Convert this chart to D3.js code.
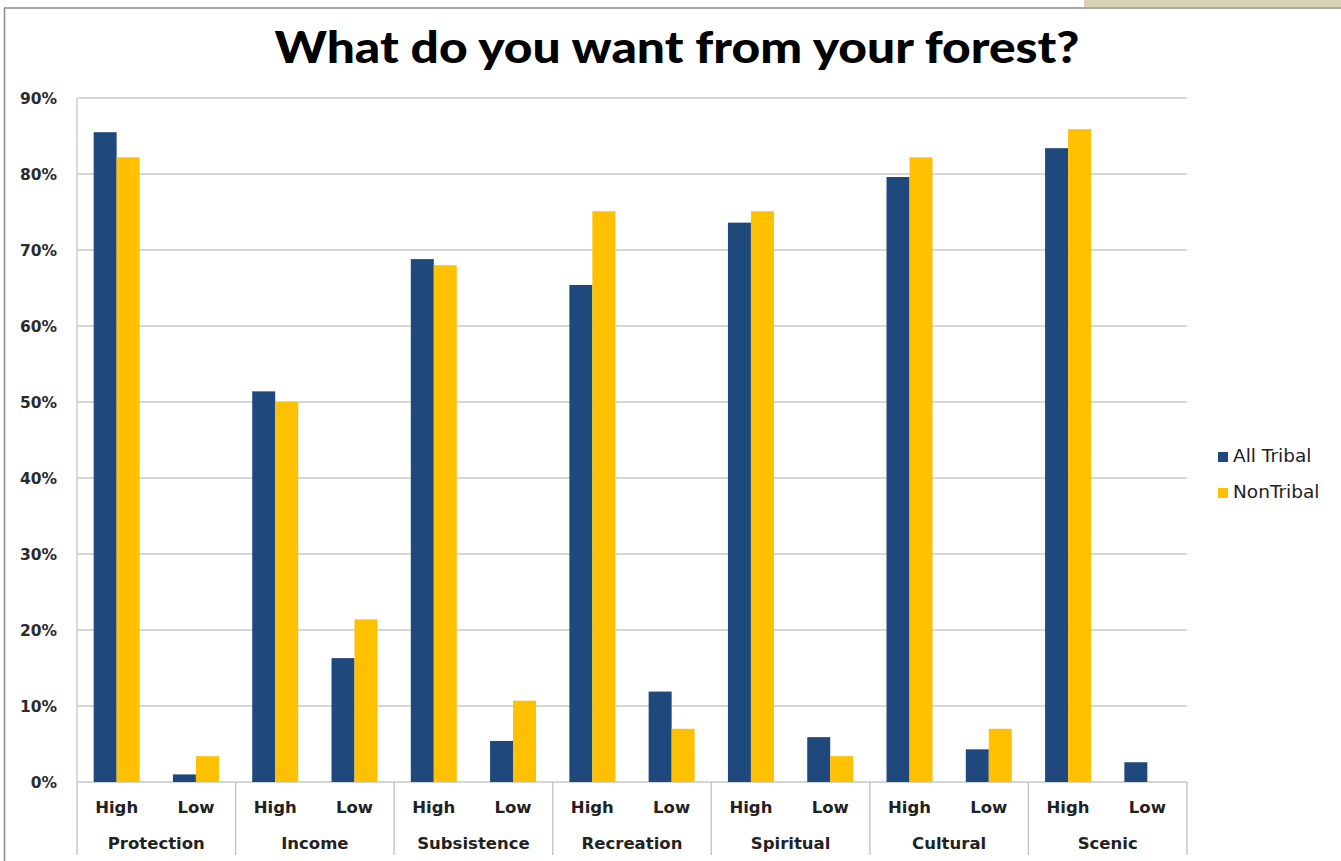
<!DOCTYPE html>
<html><head><meta charset="utf-8">
<script src="https://cdn.jsdelivr.net/npm/d3@7"></script>
<style>html,body{margin:0;padding:0;background:#fff;}svg{display:block;}</style>
</head><body>
<svg id="chart" width="1341" height="861"></svg>
<script>
const groups = ["Protection","Income","Subsistence","Recreation","Spiritual","Cultural","Scenic"];
const levels = ["High","Low"];
const seriesNames = ["All Tribal","NonTribal"];
const allTribal = [85.5,1.0, 51.4,16.3, 68.8,5.4, 65.4,11.9, 73.6,5.9, 79.6,4.3, 83.4,2.6];
const nonTribal = [82.2,3.4, 50.0,21.4, 68.0,10.7, 75.1,7.0, 75.1,3.4, 82.2,7.0, 85.9,0];
const yTicks = [0,10,20,30,40,50,60,70,80,90];
const colors = ["#1F497D","#FFC000"];

const svg = d3.select("#chart");
const font = "Lato, 'Open Sans', sans-serif";
const wide = "'DejaVu Sans', sans-serif";
const L = 77, R = 1187, T = 98, B = 782;

// frame
svg.append("rect").attr("x",1084).attr("y",0).attr("width",257).attr("height",7).attr("fill","#D6D2B2");
svg.append("line").attr("x1",4).attr("x2",1341).attr("y1",8).attr("y2",8).attr("stroke","#8a8a8a").attr("stroke-width",1.5);
svg.append("line").attr("x1",4.5).attr("x2",4.5).attr("y1",8).attr("y2",861).attr("stroke","#8a8a8a").attr("stroke-width",1.5);

const cats = [];
groups.forEach(g => levels.forEach(l => cats.push(g + "|" + l)));

const x = d3.scaleBand().domain(cats).range([L, R]).paddingInner(0.42).paddingOuter(0.21);
const xs = d3.scaleBand().domain(seriesNames).range([0, x.bandwidth()]);
const y = d3.scaleLinear().domain([0, 90]).range([B, T]);

// gridlines
svg.append("g").selectAll("line").data(yTicks).join("line")
  .attr("x1", L).attr("x2", R).attr("y1", d => y(d)).attr("y2", d => y(d))
  .attr("stroke", "#c8c8c8").attr("stroke-width", 1.3);
svg.append("line").attr("x1",L).attr("x2",L).attr("y1",T).attr("y2",B).attr("stroke","#c8c8c8").attr("stroke-width",1.3);

// y labels
svg.append("g").selectAll("text").data(yTicks).join("text")
  .attr("x", 57).attr("y", d => y(d) + 6).attr("text-anchor", "end")
  .attr("font-family", wide).attr("font-weight", "bold").attr("font-size", 15.5)
  .attr("fill", "#2a2a2a").text(d => d + "%");

// bars
const data = cats.map((c, i) => ({c, vals: [allTribal[i], nonTribal[i]]}));
const gBars = svg.append("g");
data.forEach(d => {
  d.vals.forEach((v, j) => {
    if (v <= 0) return;
    gBars.append("rect")
      .attr("x", x(d.c) + xs(seriesNames[j]))
      .attr("y", y(v))
      .attr("width", xs.bandwidth())
      .attr("height", y(0) - y(v))
      .attr("fill", colors[j]);
  });
});

// category axis dividers
const step = (R - L) / groups.length;
const gx = svg.append("g");
d3.range(groups.length + 1).forEach(k => {
  gx.append("line").attr("x1", L + k*step).attr("x2", L + k*step)
    .attr("y1", B).attr("y2", 855).attr("stroke", "#c0c0c0").attr("stroke-width", 1.3);
});
gx.selectAll("text.lvl").data(cats).join("text").attr("class","lvl")
  .attr("x", d => x(d) + x.bandwidth()/2).attr("y", 813).attr("text-anchor","middle")
  .attr("font-family", wide).attr("font-weight","bold").attr("font-size",16.5).attr("fill","#222")
  .text(d => d.split("|")[1]);
gx.selectAll("text.grp").data(groups).join("text").attr("class","grp")
  .attr("x", (d,i) => L + (i+0.5)*step).attr("y", 849).attr("text-anchor","middle")
  .attr("font-family", wide).attr("font-weight","bold").attr("font-size",16.5).attr("fill","#222")
  .text(d => d);

// title
svg.append("text").attr("x", 677).attr("y", 63).attr("text-anchor","middle")
  .attr("font-family", font).attr("font-weight","900").attr("font-size",44).attr("fill","#000")
  .attr("textLength", 805).attr("lengthAdjust","spacingAndGlyphs")
  .text("What do you want from your forest?");

// legend
const lg = svg.append("g");
seriesNames.forEach((s, j) => {
  lg.append("rect").attr("x",1218).attr("y",452 + j*36).attr("width",10).attr("height",10).attr("fill",colors[j]);
  lg.append("text").attr("x",1233).attr("y",462 + j*36).attr("font-family",wide).attr("font-size",18.5).attr("fill","#222").text(s);
});
</script>
</body></html>
